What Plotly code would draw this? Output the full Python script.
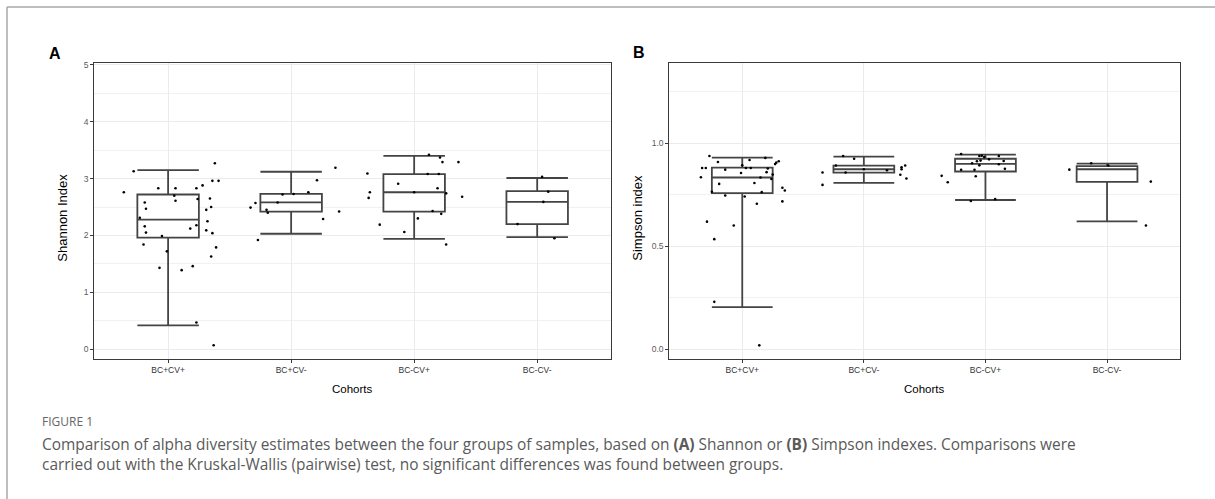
import plotly.graph_objects as go

# ---------------- data ----------------
cohorts = ["BC+CV+", "BC+CV-", "BC-CV+", "BC-CV-"]

shannon_q1 = [1.96, 2.42, 2.42, 2.20]
shannon_median = [2.28, 2.58, 2.76, 2.59]
shannon_q3 = [2.72, 2.73, 3.08, 2.78]
shannon_lower = [0.42, 2.03, 1.94, 1.97]
shannon_upper = [3.15, 3.12, 3.40, 3.01]

simpson_q1 = [0.757, 0.857, 0.862, 0.812]
simpson_median = [0.833, 0.873, 0.899, 0.873]
simpson_q3 = [0.881, 0.891, 0.924, 0.888]
simpson_lower = [0.204, 0.807, 0.724, 0.620]
simpson_upper = [0.929, 0.934, 0.944, 0.900]

# sample values per cohort and their jitter offsets (category units)
shannon_g1 = [3.27, 3.13, 2.76, 2.83, 2.83, 2.83, 2.88, 2.96, 2.96, 2.70, 2.61, 2.64,
              2.65, 2.58, 2.47, 2.45, 2.50, 2.31, 2.25, 2.16, 2.18, 2.12, 2.09, 2.05,
              2.04, 1.99, 1.84, 1.79, 1.72, 1.63, 1.43, 1.46, 1.39, 0.47, 0.07]
shannon_g1_jit = [0.38, -0.28, -0.36, -0.08, 0.06, 0.23, 0.28, 0.36, 0.41, 0.05, 0.06, 0.24,
                  0.34, -0.19, -0.18, 0.31, 0.35, -0.23, 0.32, -0.19, 0.23, 0.18, 0.31, -0.18,
                  0.36, -0.05, -0.20, 0.39, -0.01, 0.35, -0.07, 0.20, 0.11, 0.23, 0.37]
shannon_g2 = [2.72, 2.73, 2.58, 2.57, 2.49, 2.45, 2.40, 1.92, 3.19, 2.97, 2.76, 2.42, 2.29]
shannon_g2_jit = [-0.07, 0.02, -0.11, -0.29, -0.33, -0.20, -0.19, -0.27, 0.36, 0.21, 0.14, 0.39, 0.26]
shannon_g3 = [3.42, 3.37, 3.29, 3.29, 3.09, 3.08, 3.08, 2.91, 2.83, 2.76, 2.76, 2.74,
              2.66, 2.68, 2.43, 2.38, 2.30, 2.19, 2.06, 1.84]
shannon_g3_jit = [0.12, 0.21, 0.23, 0.36, -0.38, 0.11, 0.20, -0.13, 0.19, -0.36, 0.00, 0.26,
                  -0.37, 0.39, 0.15, 0.22, 0.03, -0.28, -0.08, 0.26]
shannon_g4 = [3.03, 2.77, 2.59, 2.20, 1.95]
shannon_g4_jit = [0.04, 0.09, 0.05, -0.16, 0.14]

simpson_g1 = [0.937, 0.908, 0.918, 0.928, 0.912, 0.898, 0.905, 0.879, 0.879, 0.871, 0.855, 0.879,
              0.879, 0.859, 0.833, 0.834, 0.826, 0.847, 0.802, 0.806, 0.764, 0.762, 0.746, 0.741,
              0.783, 0.770, 0.706, 0.717, 0.619, 0.600, 0.534, 0.230, 0.019, 0.892, 0.877]
simpson_g1_jit = [-0.27, -0.20, 0.06, 0.19, 0.30, 0.27, 0.28, -0.33, -0.30, -0.14, -0.01, 0.03,
                  0.07, 0.20, 0.15, -0.34, 0.24, 0.25, -0.19, 0.10, -0.25, 0.16, -0.14, 0.02,
                  0.33, 0.35, 0.12, 0.33, -0.29, -0.07, -0.23, -0.23, 0.14, 0.00, 0.21]
simpson_g2 = [0.937, 0.924, 0.891, 0.857, 0.868, 0.857, 0.797, 0.883, 0.891, 0.873, 0.846, 0.828, 0.873]
simpson_g2_jit = [-0.17, -0.08, -0.23, -0.15, 0.19, -0.34, -0.34, 0.31, 0.34, 0.31, 0.30, 0.35, 0.00]
simpson_g3 = [0.947, 0.937, 0.939, 0.932, 0.937, 0.921, 0.912, 0.915, 0.913, 0.902, 0.892, 0.897,
              0.870, 0.870, 0.875, 0.841, 0.810, 0.839, 0.719, 0.728]
simpson_g3_jit = [-0.20, -0.05, -0.03, -0.01, 0.11, 0.03, -0.07, -0.04, 0.15, -0.11, -0.05, 0.11,
                  -0.20, -0.09, 0.16, -0.36, -0.31, -0.08, -0.12, 0.08]
simpson_g4 = [0.902, 0.891, 0.871, 0.813, 0.600]
simpson_g4_jit = [-0.13, 0.01, -0.31, 0.36, 0.32]

shannon_points = [(shannon_g1, shannon_g1_jit), (shannon_g2, shannon_g2_jit),
                  (shannon_g3, shannon_g3_jit), (shannon_g4, shannon_g4_jit)]
simpson_points = [(simpson_g1, simpson_g1_jit), (simpson_g2, simpson_g2_jit),
                  (simpson_g3, simpson_g3_jit), (simpson_g4, simpson_g4_jit)]

caption_label = "FIGURE 1"
caption_line1 = ("Comparison of alpha diversity estimates between the four groups of samples, "
                 "based on <b>(A)</b> Shannon or <b>(B)</b> Simpson indexes. Comparisons were")
caption_line2 = ("carried out with the Kruskal-Wallis (pairwise) test, no significant differences "
                 "was found between groups.")

# ---------------- figure ----------------
W, H = 1215, 499


def xp(px):
    return px / W


def yp(py):
    return 1 - py / H


positions = [1, 2, 3, 4]
LINE = "#3a3a3a"
BOXLINE = "#444444"
fig = go.Figure()

panels = [
    ("x", "y", shannon_q1, shannon_median, shannon_q3, shannon_lower, shannon_upper, shannon_points),
    ("x2", "y2", simpson_q1, simpson_median, simpson_q3, simpson_lower, simpson_upper, simpson_points),
]
for xa, ya, q1, med, q3, lo, up, pts in panels:
    fig.add_trace(go.Box(
        x=positions, q1=q1, median=med, q3=q3, lowerfence=lo, upperfence=up,
        width=0.5, whiskerwidth=1, boxpoints=False,
        fillcolor="white", line=dict(color=BOXLINE, width=1.8),
        xaxis=xa, yaxis=ya, showlegend=False, hoverinfo="skip",
    ))
    for pos, (vals, jit) in zip(positions, pts):
        fig.add_trace(go.Scatter(
            x=[pos + j for j in jit], y=vals, mode="markers",
            marker=dict(color="black", size=2.6),
            xaxis=xa, yaxis=ya, showlegend=False, hoverinfo="skip",
        ))

FONT = "Liberation Sans, Arial, sans-serif"
common_x = dict(
    range=[0.4, 4.6], tickmode="array", tickvals=positions, ticktext=cohorts,
    showgrid=True, gridcolor="#ebebeb", gridwidth=1, zeroline=False,
    showline=True, linecolor=LINE, linewidth=1, mirror=True,
    ticks="outside", ticklen=3, tickcolor=LINE, tickwidth=1,
    tickfont=dict(family=FONT, size=8.5, color="#333333"),
)
common_y = dict(
    showgrid=True, gridcolor="#ebebeb", gridwidth=1, zeroline=False,
    showline=True, linecolor=LINE, linewidth=1, mirror=True,
    ticks="outside", ticklen=3, tickcolor=LINE, tickwidth=1,
    tickfont=dict(family=FONT, size=8.5, color="#5a5a5a"),
)

fig.update_layout(
    width=W, height=H, margin=dict(l=0, r=0, t=0, b=0),
    paper_bgcolor="white", plot_bgcolor="white",
    xaxis=dict(domain=[xp(94.3), xp(611)], anchor="y", **common_x),
    yaxis=dict(domain=[yp(358), yp(60.5)], anchor="x", range=[-0.17, 5.03],
               tickvals=[0, 1, 2, 3, 4, 5], ticktext=["0", "1", "2", "3", "4", "5"],
               minor=dict(tickvals=[0.5, 1.5, 2.5, 3.5, 4.5], showgrid=True,
                          gridcolor="#f1f1f1", gridwidth=1, ticks=""),
               **common_y),
    xaxis2=dict(domain=[xp(669.3), xp(1180)], anchor="y2", **common_x),
    yaxis2=dict(domain=[yp(357.7), yp(60)], anchor="x2", range=[-0.045, 1.39],
                tickvals=[0, 0.5, 1.0], ticktext=["0.0", "0.5", "1.0"],
                minor=dict(tickvals=[0.25, 0.75, 1.25], showgrid=True,
                           gridcolor="#f1f1f1", gridwidth=1, ticks=""),
                **common_y),
    shapes=[
        dict(type="line", xref="paper", yref="paper", x0=xp(7), x1=xp(7), y0=0, y1=yp(4),
             line=dict(color="#a8a8a8", width=1.5)),
        dict(type="line", xref="paper", yref="paper", x0=xp(7), x1=1, y0=yp(4), y1=yp(4),
             line=dict(color="#a8a8a8", width=1.5)),
    ],
)

ann = []
ann.append(dict(text="<b>A</b>", x=xp(47), y=yp(51), xanchor="left", yanchor="middle",
                font=dict(family=FONT, size=16, color="black")))
ann.append(dict(text="<b>B</b>", x=xp(631), y=yp(50), xanchor="left", yanchor="middle",
                font=dict(family=FONT, size=16, color="black")))
ann.append(dict(text="Shannon Index", x=xp(63), y=yp(216), textangle=-90,
                xanchor="center", yanchor="middle",
                font=dict(family=FONT, size=13, color="black")))
ann.append(dict(text="Simpson index", x=xp(638), y=yp(216), textangle=-90,
                xanchor="center", yanchor="middle",
                font=dict(family=FONT, size=13, color="black")))
ann.append(dict(text="Cohorts", x=xp(352.7), y=yp(388), xanchor="center", yanchor="middle",
                font=dict(family=FONT, size=11.5, color="black")))
ann.append(dict(text="Cohorts", x=xp(924.7), y=yp(388), xanchor="center", yanchor="middle",
                font=dict(family=FONT, size=11.5, color="black")))
CAP_FONT = "Open Sans, Lato, sans-serif"
ann.append(dict(text=caption_label, x=xp(40), y=yp(421), xanchor="left", yanchor="middle",
                font=dict(family=CAP_FONT, size=12, color="#666666")))
ann.append(dict(text=caption_line1 + "<br>" + caption_line2, x=xp(40), y=yp(454),
                xanchor="left", yanchor="middle", align="left",
                font=dict(family=CAP_FONT, size=15.45, color="#5a5a5a")))
for a in ann:
    a.update(xref="paper", yref="paper", showarrow=False)
fig.update_layout(annotations=ann)

fig.write_html("out.html", config={"displayModeBar": False},
               post_script="document.body.style.margin='0';document.body.style.overflow='hidden';")
